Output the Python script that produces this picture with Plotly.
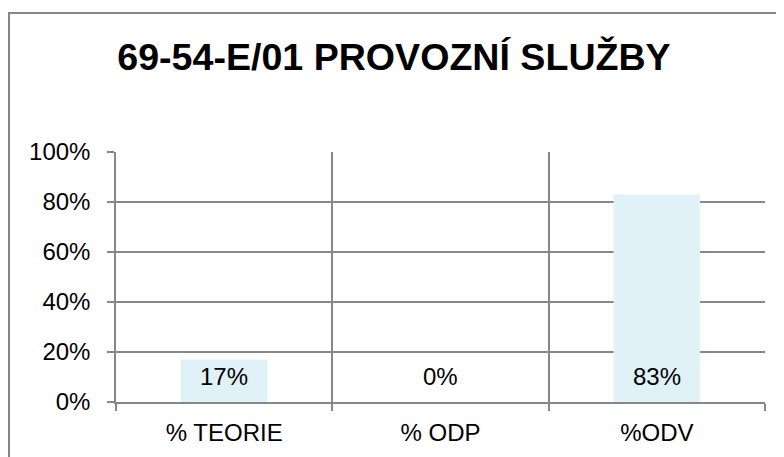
import plotly.graph_objects as go

categories = ["% TEORIE", "% ODP", "%ODV"]
values = [0.17, 0.0, 0.83]
labels = ["17%", "0%", "83%"]
title_text = "69-54-E/01 PROVOZNÍ SLUŽBY"
y_ticks = [0, 0.2, 0.4, 0.6, 0.8, 1.0]
y_ticktext = ["0%", "20%", "40%", "60%", "80%", "100%"]

W, H = 784, 457
L, R, T, B = 108, 27, 144, 63
PW, PH = W - L - R, H - T - B

fig = go.Figure()
fig.add_trace(go.Bar(x=categories, y=values, width=0.4,
                     marker=dict(color="#E0F1F8", line=dict(width=0)),
                     hoverinfo="skip"))

for c, v, t in zip(categories, values, labels):
    fig.add_annotation(x=c, y=0, text=t, showarrow=False, yanchor="bottom",
                       yshift=10, font=dict(family="Liberation Sans", size=24, color="#000"))

grid = "#878787"
fig.update_layout(
    width=W, height=H,
    margin=dict(l=L, r=R, t=T, b=B, autoexpand=False),
    paper_bgcolor="white", plot_bgcolor="white",
    showlegend=False,
    title=dict(text="<b>" + title_text + "</b>", x=386 / W, xanchor="center",
               y=1 - 49 / H, yanchor="middle", yref="container",
               font=dict(family="Liberation Sans", size=37.6, color="#000")),
    font=dict(family="Liberation Sans", size=24, color="#000"),
    xaxis=dict(type="category", tickson="boundaries", showgrid=True, gridcolor=grid,
               gridwidth=1.5, showline=True, linecolor=grid, linewidth=1.5,
               ticks="outside", ticklen=7, tickcolor=grid, tickwidth=1.5,
               tickfont=dict(size=24), ticklabelstandoff=8,
               range=[-0.5, 2.5], fixedrange=True),
    yaxis=dict(range=[0, 1], tickvals=y_ticks, ticktext=y_ticktext, showgrid=True,
               gridcolor=grid, gridwidth=1.5, showline=True, linecolor=grid, linewidth=1.5,
               ticks="outside", ticklen=7, tickcolor=grid, tickwidth=1.5,
               tickfont=dict(size=24), ticklabelstandoff=12, zeroline=False, fixedrange=True),
    shapes=[dict(type="rect", xref="paper", yref="paper",
                 x0=(1 - L) / PW, x1=(W + 20 - L) / PW,
                 y0=(T + PH - (H + 20)) / PH, y1=(T + PH - 5) / PH,
                 line=dict(color="#868686", width=2),
                 fillcolor="rgba(0,0,0,0)", layer="below")],
)

fig.write_html("out.html")
